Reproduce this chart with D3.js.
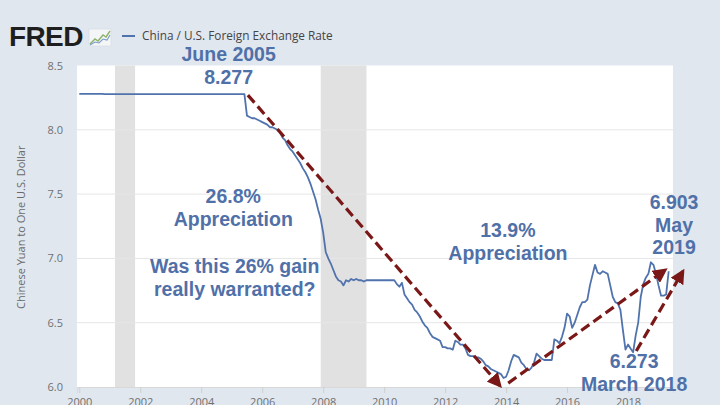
<!DOCTYPE html>
<html><head><meta charset="utf-8">
<script src="https://cdn.jsdelivr.net/npm/d3@7"></script>
<style>
html,body{margin:0;padding:0;background:#e1e7ef;}
svg{display:block;}
</style></head>
<body>
<svg id="c" width="720" height="405"></svg>
<script>
// ---- data (monthly, Chinese Yuan per U.S. Dollar) ----
const years = d3.range(2000, 2020);
const monthly = {
 2000:[8.279,8.279,8.279,8.279,8.279,8.279,8.279,8.279,8.279,8.279,8.278,8.278],
 2001:[8.277,8.277,8.277,8.277,8.277,8.277,8.277,8.277,8.277,8.277,8.277,8.277],
 2002:[8.277,8.277,8.277,8.277,8.277,8.277,8.277,8.277,8.277,8.277,8.277,8.277],
 2003:[8.277,8.277,8.277,8.277,8.277,8.277,8.277,8.277,8.277,8.277,8.277,8.277],
 2004:[8.277,8.277,8.277,8.277,8.277,8.277,8.277,8.277,8.277,8.277,8.277,8.277],
 2005:[8.277,8.277,8.277,8.277,8.277,8.277,8.11,8.10,8.09,8.09,8.08,8.07],
 2006:[8.06,8.05,8.04,8.02,8.02,8.01,8.00,7.98,7.94,7.92,7.88,7.85],
 2007:[7.83,7.80,7.77,7.74,7.70,7.67,7.63,7.58,7.52,7.46,7.38,7.31],
 2008:[7.20,7.05,7.00,6.96,6.91,6.86,6.83,6.82,6.79,6.83,6.82,6.84],
 2009:[6.83,6.84,6.83,6.83,6.82,6.83,6.83,6.83,6.83,6.83,6.83,6.83],
 2010:[6.83,6.83,6.83,6.83,6.83,6.80,6.78,6.81,6.72,6.69,6.66,6.64],
 2011:[6.60,6.58,6.55,6.51,6.48,6.46,6.42,6.39,6.38,6.37,6.36,6.31],
 2012:[6.31,6.30,6.30,6.29,6.36,6.35,6.33,6.33,6.30,6.25,6.24,6.24],
 2013:[6.23,6.23,6.22,6.20,6.17,6.16,6.14,6.13,6.12,6.11,6.10,6.07],
 2014:[6.08,6.13,6.20,6.25,6.24,6.23,6.19,6.17,6.14,6.13,6.15,6.19],
 2015:[6.26,6.24,6.22,6.21,6.21,6.21,6.21,6.37,6.36,6.34,6.39,6.46],
 2016:[6.57,6.55,6.46,6.50,6.56,6.62,6.66,6.66,6.68,6.79,6.87,6.95],
 2017:[6.89,6.88,6.90,6.89,6.88,6.79,6.70,6.66,6.65,6.60,6.44,6.29],
 2018:[6.33,6.30,6.27,6.40,6.50,6.70,6.80,6.85,6.88,6.97,6.95,6.88],
 2019:[6.79,6.71,6.71,6.72,6.90]
};
const recessions = [[2001.17, 2001.83], [2007.92, 2009.42]];
const yTicks = [6.0, 6.5, 7.0, 7.5, 8.0, 8.5];
const xTicks = d3.range(2000, 2019, 2);
const arrows = [
  {from:[2005.53, 8.27], to:[2013.80, 6.01]},
  {from:[2014.07, 6.03], to:[2019.22, 6.91]},
  {from:[2018.27, 6.28], to:[2019.80, 6.90]}
];
const notes = [
  {lines:["June 2005","8.277"], x:2004.9, base:61},
  {lines:["26.8%","Appreciation"], x:2005.05, base:203},
  {lines:["Was this 26% gain","really warranted?"], x:2005.1, base:273},
  {lines:["13.9%","Appreciation"], x:2014.06, base:237},
  {lines:["6.903","May","2019"], x:2019.51, base:209},
  {lines:["6.273","March 2018"], x:2018.2, base:368}
];
const legendLabel = "China / U.S. Foreign Exchange Rate";
const yTitle = "Chinese Yuan to One U.S. Dollar";

// flatten series
const series = [];
years.forEach(y => (monthly[y]||[]).forEach((v,i) => series.push({t:y + i/12, v})));

// ---- layout ----
const svg = d3.select("#c");
const L = 77, R = 673, T = 65.5, B = 387;
const x = d3.scaleLinear().domain([1999.925, 2019.475]).range([L, R]);
const y = d3.scaleLinear().domain([6.0, 8.5]).range([B, T]);

const blue = "#5073ad", textBlue = "#5070a8", maroon = "#7a1818";

// plot background
svg.append("rect").attr("x", L).attr("y", T).attr("width", R-L).attr("height", B-T).attr("fill", "#fff");

// recessions
svg.selectAll("rect.rec").data(recessions).join("rect").attr("class","rec")
  .attr("x", d => x(d[0])).attr("y", T).attr("width", d => x(d[1]) - x(d[0])).attr("height", B-T)
  .attr("fill", "#e1e1e1");

// gridlines
svg.selectAll("line.grid").data(yTicks.slice(1,-1)).join("line").attr("class","grid")
  .attr("x1", L).attr("x2", R).attr("y1", d => y(d)).attr("y2", d => y(d))
  .attr("stroke", "#e6e6e6").attr("stroke-width", 1);

// y axis
const yAxis = svg.append("g").attr("transform", `translate(${L},0)`)
  .call(d3.axisLeft(y).tickValues(yTicks).tickFormat(d3.format(".1f")).tickSize(0).tickPadding(14));
yAxis.select(".domain").remove();
yAxis.selectAll("text").attr("fill", "#707070").style("font-family", "'Open Sans', sans-serif").style("font-size", "11px");

// x axis
const xAxis = svg.append("g").attr("transform", `translate(0,${B})`)
  .call(d3.axisBottom(x).tickValues(xTicks).tickFormat(d3.format("d")).tickSize(6).tickPadding(5));
xAxis.select(".domain").attr("stroke", "#d8d8d8");
xAxis.selectAll(".tick line").attr("stroke", "#cfcfcf");
xAxis.selectAll("text").attr("fill", "#707070").style("font-family", "'Open Sans', sans-serif").style("font-size", "11px");

// y title
svg.append("text").attr("transform", `translate(25,${(T+B)/2+1}) rotate(-90)`)
  .attr("text-anchor", "middle").attr("fill", "#6a6a6a")
  .style("font-family", "'Open Sans', sans-serif").style("font-size", "11px").text(yTitle);

// series line
svg.append("path").datum(series)
  .attr("d", d3.line().x(d => x(d.t)).y(d => y(d.v)))
  .attr("fill", "none").attr("stroke", blue).attr("stroke-width", 1.8).attr("stroke-linejoin", "round");

// arrows
const defs = svg.append("defs");
defs.append("marker").attr("id", "ah").attr("viewBox", "0 0 10 10").attr("refX", 8).attr("refY", 5)
  .attr("markerWidth", 4.6).attr("markerHeight", 4.6).attr("orient", "auto")
  .append("path").attr("d", "M0,0 L10,5 L0,10 z").attr("fill", maroon);
svg.selectAll("line.arrow").data(arrows).join("line").attr("class","arrow")
  .attr("x1", d => x(d.from[0])).attr("y1", d => y(d.from[1]))
  .attr("x2", d => x(d.to[0])).attr("y2", d => y(d.to[1]))
  .attr("stroke", maroon).attr("stroke-width", 3.2).attr("stroke-dasharray", "10,5")
  .attr("marker-end", "url(#ah)");

// annotations
notes.forEach(n => {
  const t = svg.append("text").attr("text-anchor", "middle").attr("fill", textBlue)
    .style("font-family", "'Liberation Sans', Arial, sans-serif").style("font-weight", "bold").style("font-size", "19.5px");
  n.lines.forEach((s, i) => t.append("tspan").attr("x", x(n.x)).attr("y", n.base + i*22.5).text(s));
});

// FRED logo + legend
svg.append("text").attr("x", 9).attr("y", 46).attr("fill", "#1e1e1e")
  .style("font-family", "'Liberation Sans', Arial, sans-serif").style("font-weight", "bold")
  .style("font-size", "28px").style("letter-spacing", "-0.6px").text("FRED");
const icon = svg.append("g").attr("transform", "translate(89,29)");
icon.append("rect").attr("width", 22).attr("height", 17).attr("fill", "#f3f5f7").attr("stroke", "#d5dbe2").attr("stroke-width", 0.6);
icon.append("path").attr("d", "M1,15 L6,10 L9,12 L14,6 L17,8 L21,2").attr("fill", "none").attr("stroke", "#8db36a").attr("stroke-width", 1.4);
icon.append("path").attr("d", "M1,16 L6,13 L10,14 L14,10 L18,11 L21,6").attr("fill", "none").attr("stroke", "#7a9cc6").attr("stroke-width", 1.1);
svg.append("line").attr("x1", 122).attr("x2", 135).attr("y1", 36).attr("y2", 36).attr("stroke", blue).attr("stroke-width", 2);
svg.append("text").attr("x", 142).attr("y", 40).attr("fill", "#444")
  .style("font-family", "'Open Sans', sans-serif").style("font-size", "11.8px").text(legendLabel);
</script>
</body></html>
